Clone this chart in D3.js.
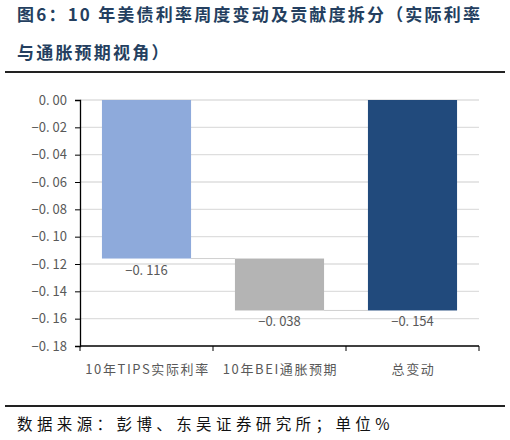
<!DOCTYPE html>
<html>
<head>
<meta charset="utf-8">
<script src="https://cdn.jsdelivr.net/npm/d3@7"></script>
<style>
  body { margin: 0; background: #fff; }
  text { font-family: "Noto Sans CJK SC", "Noto Sans", sans-serif; }
</style>
</head>
<body>
<div id="chart"></div>
<script>
// waterfall data
var categories = ["10年TIPS实际利率", "10年BEI通胀预期", "总变动"];
var changes = [-0.116, -0.038, -0.154];
var isTotal = [false, false, true];
var barColors = ["#8eaadb", "#b4b4b4", "#214a7c"];
var yTicks = [0, -0.02, -0.04, -0.06, -0.08, -0.10, -0.12, -0.14, -0.16, -0.18];

var width = 510, height = 440;
var margin = { top: 100, left: 80, right: 31, bottom: 94 };

var svg = d3.select("#chart").append("svg")
  .attr("width", width)
  .attr("height", height);

// title
var titleLines = ["图6：10 年美债利率周度变动及贡献度拆分（实际利率", "与通胀预期视角）"];
svg.selectAll("text.title")
  .data(titleLines)
  .enter().append("text")
  .attr("class", "title")
  .attr("x", 17)
  .attr("y", function (d, i) { return 21 + i * 38; })
  .style("font-size", "17px")
  .style("letter-spacing", "2.2px")
  .style("font-weight", "bold")
  .style("fill", "#243f60")
  .text(function (d) { return d; });

svg.append("line")
  .attr("x1", 5).attr("x2", 505)
  .attr("y1", 72).attr("y2", 72)
  .style("stroke", "#222").style("stroke-width", 2);

// build waterfall steps
var running = 0;
var steps = changes.map(function (v, i) {
  var s;
  if (isTotal[i]) { s = { start: 0, end: v }; }
  else { s = { start: running, end: running + v }; running += v; }
  s.value = v; s.cat = categories[i]; s.color = barColors[i];
  return s;
});

var x = d3.scaleBand()
  .domain(categories)
  .range([margin.left, width - margin.right])
  .paddingInner(0.33)
  .paddingOuter(0.165);

var y = d3.scaleLinear()
  .domain([0, -0.18])
  .range([margin.top, height - margin.bottom]);

var g = svg.append("g");

// gridlines
g.selectAll("line.grid")
  .data(yTicks.slice(0, -1))
  .enter().append("line")
  .attr("x1", margin.left).attr("x2", width - margin.right)
  .attr("y1", function (d) { return y(d); })
  .attr("y2", function (d) { return y(d); })
  .style("stroke", "#dedede").style("stroke-width", 1.3);

// connectors
g.selectAll("line.conn")
  .data(steps.slice(0, -1))
  .enter().append("line")
  .attr("x1", function (d) { return x(d.cat) + x.bandwidth(); })
  .attr("x2", function (d, i) { return x(categories[i + 1]); })
  .attr("y1", function (d) { return y(d.end); })
  .attr("y2", function (d) { return y(d.end); })
  .style("stroke", "#d0d0d0").style("stroke-width", 1);

// bars
g.selectAll("rect.bar")
  .data(steps)
  .enter().append("rect")
  .attr("x", function (d) { return x(d.cat); })
  .attr("y", function (d) { return y(Math.max(d.start, d.end)); })
  .attr("width", x.bandwidth())
  .attr("height", function (d) { return Math.abs(y(d.end) - y(d.start)); })
  .style("fill", function (d) { return d.color; });

// value labels
g.selectAll("text.val")
  .data(steps)
  .enter().append("text")
  .attr("x", function (d) { return x(d.cat) + x.bandwidth() / 2; })
  .attr("y", function (d) { return y(Math.min(d.start, d.end)) + 16; })
  .attr("text-anchor", "middle")
  .style("font-size", "13px")
  .style("fill", "#595959")
  .text(function (d) { return "−" + Math.abs(d.value).toFixed(3).replace(".", ". "); });

// y axis
var yAxis = d3.axisLeft(y)
  .tickValues(yTicks)
  .tickSize(5)
  .tickPadding(8)
  .tickFormat(function (d) {
    var s = Math.abs(d).toFixed(2).replace(".", ". ");
    return (d < 0 ? "−" : "") + s;
  });
var ya = svg.append("g")
  .attr("transform", "translate(" + margin.left + ",0)")
  .call(yAxis);
ya.select(".domain").style("stroke", "#000").style("stroke-width", 1.3);
ya.selectAll(".tick line").style("stroke", "#000");
ya.selectAll(".tick text")
  .style("font-size", "13px")
  .style("fill", "#595959")
  .style("font-family", "\"Noto Sans CJK SC\", sans-serif");

// x axis: ticks at band boundaries
var xb = svg.append("g");
xb.append("line")
  .attr("x1", margin.left).attr("x2", width - margin.right)
  .attr("y1", y(-0.18)).attr("y2", y(-0.18))
  .style("stroke", "#000").style("stroke-width", 1.3);
var bounds = d3.range(categories.length + 1).map(function (i) {
  return margin.left + i * (width - margin.right - margin.left) / categories.length;
});
xb.selectAll("line.xt")
  .data(bounds)
  .enter().append("line")
  .attr("x1", function (d) { return d; }).attr("x2", function (d) { return d; })
  .attr("y1", y(-0.18)).attr("y2", y(-0.18) + 5)
  .style("stroke", "#000");
xb.selectAll("text.cat")
  .data(categories)
  .enter().append("text")
  .attr("x", function (d) { return x(d) + x.bandwidth() / 2 + 1; })
  .attr("y", y(-0.18) + 28)
  .attr("text-anchor", "middle")
  .style("font-size", "13px")
  .style("letter-spacing", "1.6px")
  .style("fill", "#595959")
  .text(function (d) { return d; });

// footer
svg.append("line")
  .attr("x1", 5).attr("x2", 505)
  .attr("y1", 406).attr("y2", 406)
  .style("stroke", "#222").style("stroke-width", 2);
svg.append("text")
  .attr("x", 17).attr("y", 430)
  .style("font-size", "15.5px")
  .style("letter-spacing", "4.4px")
  .style("fill", "#111")
  .text("数据来源：彭博、东吴证券研究所；单位%");
</script>
</body>
</html>
